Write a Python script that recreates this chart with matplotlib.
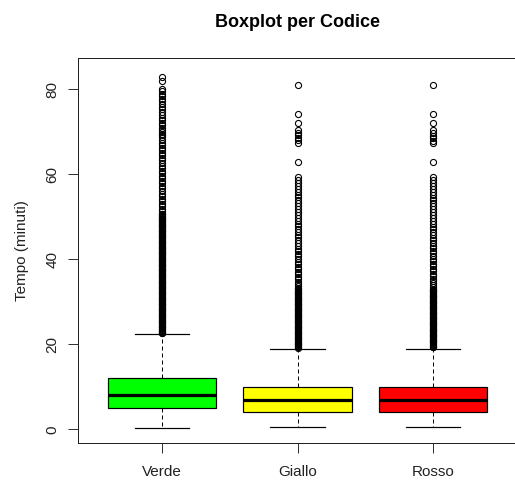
import matplotlib
matplotlib.use("Agg")
import matplotlib.pyplot as plt

# Summary statistics per triage code (minutes)
categories = ["Verde", "Giallo", "Rosso"]
box_colors = ["#00FF00", "#FFFF00", "#FF0000"]
whisker_low = [0.3, 0.5, 0.5]
q1 = [5.0, 4.0, 4.0]
median = [8.0, 7.0, 7.0]
q3 = [12.0, 10.0, 10.0]
whisker_high = [22.5, 19.0, 19.0]

# Outlying waiting times (minutes)
outliers_verde = [
    83.0, 82.0, 80.2, 79.6, 79.0, 78.4, 77.8, 77.2, 76.5, 75.9, 75.3, 74.6,
    74.0, 73.4, 72.8, 72.2, 71.6, 71.0, 70.5, 70.0, 69.6, 69.2, 68.7, 68.1,
    67.5, 66.9, 66.3, 65.7, 65.1, 64.5, 63.9, 63.3, 62.7, 62.1, 61.5, 60.9,
    60.3, 59.7, 59.1, 58.5, 57.9, 57.3, 56.7, 56.1, 55.5, 54.9, 54.3, 53.7,
    53.1, 52.5, 51.9, 51.3,
    50.8, 50.6, 50.4, 50.2, 50.0, 49.8, 49.6, 49.4, 49.2, 49.0,
    48.8, 48.6, 48.4, 48.2, 48.0, 47.8, 47.6, 47.4, 47.2, 47.0,
    46.8, 46.6, 46.4, 46.2, 46.0, 45.8, 45.6, 45.4, 45.2, 45.0,
    44.8, 44.6, 44.4, 44.2, 44.0, 43.8, 43.6, 43.4, 43.2, 43.0,
    42.8, 42.6, 42.4, 42.2, 42.0, 41.8, 41.6, 41.4, 41.2, 41.0,
    40.8, 40.6, 40.4, 40.2, 40.0, 39.8, 39.6, 39.4, 39.2, 39.0,
    38.8, 38.6, 38.4, 38.2, 38.0, 37.8, 37.6, 37.4, 37.2, 37.0,
    36.8, 36.6, 36.4, 36.2, 36.0, 35.8, 35.6, 35.4, 35.2, 35.0,
    34.8, 34.6, 34.4, 34.2, 34.0, 33.8, 33.6, 33.4, 33.2, 33.0,
    32.8, 32.6, 32.4, 32.2, 32.0, 31.8, 31.6, 31.4, 31.2, 31.0,
    30.8, 30.6, 30.4, 30.2, 30.0, 29.8, 29.6, 29.4, 29.2, 29.0,
    28.8, 28.6, 28.4, 28.2, 28.0, 27.8, 27.6, 27.4, 27.2, 27.0,
    26.8, 26.6, 26.4, 26.2, 26.0, 25.8, 25.6, 25.4, 25.2, 25.0,
    24.8, 24.6, 24.4, 24.2, 24.0, 23.8, 23.6, 23.4, 23.2, 23.0,
    22.8, 22.6,
]
outliers_giallo = [
    81.0, 74.3, 72.2, 70.4, 69.8, 69.2, 68.6, 68.0, 67.4, 63.0,
    59.4, 58.8, 58.1, 57.4, 56.6, 55.9, 55.2, 54.6, 53.9, 53.3, 52.6, 51.9,
    51.2, 50.5, 49.8, 49.1, 48.4, 47.8, 47.1, 46.5, 45.8, 45.2, 44.5, 43.8,
    43.1, 42.5, 41.9, 41.3, 40.7, 40.1, 39.5, 38.9, 38.3, 37.7, 37.1, 36.5,
    35.9, 35.3, 34.8, 34.3, 33.8, 33.3,
    33.0, 32.8, 32.6, 32.4, 32.2, 32.0, 31.8, 31.6, 31.4, 31.2,
    31.0, 30.8, 30.6, 30.4, 30.2, 30.0, 29.8, 29.6, 29.4, 29.2,
    29.0, 28.8, 28.6, 28.4, 28.2, 28.0, 27.8, 27.6, 27.4, 27.2,
    27.0, 26.8, 26.6, 26.4, 26.2, 26.0, 25.8, 25.6, 25.4, 25.2,
    25.0, 24.8, 24.6, 24.4, 24.2, 24.0, 23.8, 23.6, 23.4, 23.2,
    23.0, 22.8, 22.6, 22.4, 22.2, 22.0, 21.8, 21.6, 21.4, 21.2,
    21.0, 20.8, 20.6, 20.4, 20.2, 20.0, 19.8, 19.6, 19.4, 19.2,
]
outliers_rosso = [
    81.0, 74.3, 72.2, 70.4, 69.8, 69.1, 68.5, 67.9, 67.3, 63.0,
    59.4, 58.7, 58.0, 57.3, 56.6, 55.9, 55.2, 54.5, 53.9, 53.2, 52.5, 51.8,
    51.1, 50.4, 49.7, 49.0, 48.4, 47.7, 47.1, 46.4, 45.8, 45.1, 44.5, 43.8,
    43.2, 42.6, 42.0, 41.4, 40.8, 40.2, 39.6, 39.0, 38.4, 37.8, 37.2, 36.6,
    36.0, 35.4, 34.9, 34.4, 33.9, 33.4,
    33.1, 32.9, 32.7, 32.5, 32.3, 32.1, 31.9, 31.7, 31.5, 31.3,
    31.1, 30.9, 30.7, 30.5, 30.3, 30.1, 29.9, 29.7, 29.5, 29.3,
    29.1, 28.9, 28.7, 28.5, 28.3, 28.1, 27.9, 27.7, 27.5, 27.3,
    27.1, 26.9, 26.7, 26.5, 26.3, 26.1, 25.9, 25.7, 25.5, 25.3,
    25.1, 24.9, 24.7, 24.5, 24.3, 24.1, 23.9, 23.7, 23.5, 23.3,
    23.1, 22.9, 22.7, 22.5, 22.3, 22.1, 21.9, 21.7, 21.5, 21.3,
    21.1, 20.9, 20.7, 20.5, 20.3, 20.1, 19.9, 19.7, 19.5, 19.3,
]
outliers = [outliers_verde, outliers_giallo, outliers_rosso]

y_ticks = [0, 20, 40, 60, 80]

plt.rcParams["font.family"] = ["Liberation Sans", "DejaVu Sans"]

fig = plt.figure(figsize=(5.15, 4.8), dpi=100)
ax = fig.add_axes([0.1515, 0.0771, 0.8525, 0.802])

stats = []
for i, name in enumerate(categories):
    stats.append(dict(label=name, med=median[i], q1=q1[i], q3=q3[i],
                      whislo=whisker_low[i], whishi=whisker_high[i],
                      fliers=outliers[i]))

px = 0.72  # one pixel in points at 100 dpi
bp = ax.bxp(
    stats, positions=[1, 2, 3], widths=0.8, patch_artist=True,
    boxprops=dict(edgecolor="black", linewidth=1.2 * px),
    medianprops=dict(color="black", linewidth=3.2 * px, solid_capstyle="butt"),
    whiskerprops=dict(color="black", linewidth=1.0 * px, linestyle=(0, (4, 3))),
    capprops=dict(color="black", linewidth=1.2 * px),
    capwidths=0.4,
    flierprops=dict(marker="o", markerfacecolor="none", markeredgecolor="black",
                    markersize=4.4, markeredgewidth=1.1 * px, linestyle="none"),
)
for patch, c in zip(bp["boxes"], box_colors):
    patch.set_facecolor(c)

ax.set_xlim(0.38, 3.62)
ax.set_ylim(-3.2, 87.4)
ax.set_xticks([1, 2, 3])
ax.set_xticklabels(categories, fontsize=11, color="#222222")
ax.set_yticks(y_ticks)
ax.set_yticklabels([str(v) for v in y_ticks], fontsize=11, color="#222222",
                   rotation=90, va="center")
ax.tick_params(axis="both", length=7.2, width=1.0 * px, color="#333333")
ax.tick_params(axis="x", pad=9)
ax.tick_params(axis="y", pad=6)
for s in ax.spines.values():
    s.set_linewidth(1.0 * px)
    s.set_color("#222222")

ax.set_ylabel("Tempo (minuti)", fontsize=11, color="#222222", labelpad=12)
fig.text(0.578, 0.953, "Boxplot per Codice", ha="center", va="center",
         fontsize=13, fontweight="bold", color="black")

fig.savefig("out.png", dpi=100, facecolor="white")
